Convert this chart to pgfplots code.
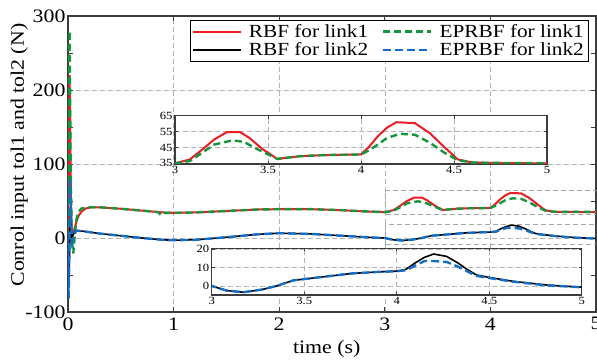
\documentclass[border=0pt]{standalone}
\usepackage{fontspec}
\setmainfont{Liberation Serif}[FakeStretch=1.15]
\usepackage{pgfplots}
\usepackage{pgfplotstable}
\pgfplotsset{compat=1.18}
\definecolor{cred}{RGB}{232,30,36}
\definecolor{cgreen}{RGB}{20,150,60}
\definecolor{cblue}{RGB}{20,110,200}
\definecolor{caxis}{RGB}{60,60,60}

\pgfplotstableread{
t v
0 0
0.005 60
0.01 150
0.015 220
0.02 160
0.027 60
0.035 10
0.045 2
0.06 12
0.08 22
0.1 30
0.13 36
0.17 40
0.22 41.5
0.3 41.5
0.5 39.5
0.7 37
0.9 34.5
1.0 34
1.2 34.5
1.5 36.5
1.8 38.5
2.0 39
2.3 39
2.6 37.5
2.8 36
3.0 35
3.08 37.5
3.15 44
3.21 50
3.28 54.7
3.35 54.7
3.4 51
3.47 44
3.55 37.8
3.67 39.5
3.8 40.2
4.0 40.6
4.04 45
4.09 52
4.14 57.5
4.19 60.9
4.29 60.3
4.37 54
4.45 45
4.52 37.5
4.6 35.5
4.75 35.2
5.0 35
}\redtab

\pgfplotstableread{
t v
0 0
0.005 120
0.01 230
0.015 280
0.02 200
0.025 100
0.035 0
0.05 -21
0.065 5
0.08 25
0.1 36
0.13 40
0.2 41.5
0.3 41.5
0.5 39.5
0.7 37
0.85 35
0.88 31
0.91 34
1.0 34
1.2 34.5
1.5 36.5
1.8 38.5
2.0 39
2.3 39
2.6 37.5
2.8 36
3.0 35
3.08 36.5
3.15 42
3.21 46.8
3.31 49.5
3.37 48.5
3.45 43.5
3.55 37.8
3.67 39.5
3.8 40.2
4.0 40.6
4.04 43
4.09 46.8
4.14 51
4.21 53.6
4.29 53
4.37 48
4.45 41.6
4.52 37
4.6 35.5
4.8 35.2
5.0 35.2
}\greentab

\pgfplotstableread{
t v
0 0
0.008 -58
0.015 -20
0.02 30
0.03 0
0.05 5
0.08 10
0.15 9
0.3 6
0.5 3
0.7 0
0.9 -2.5
1.0 -3
1.2 -2.5
1.5 1
1.8 5
2.0 6.5
2.3 5.5
2.6 3
2.9 0.5
3.0 0
3.08 -2.5
3.17 -3.4
3.27 -2
3.35 0
3.44 3
3.55 4.3
3.65 5.5
3.76 6.8
3.9 7.6
4.0 8
4.05 9
4.1 12.5
4.15 15.5
4.2 17.3
4.27 16
4.33 12.5
4.38 9
4.43 6
4.5 4.6
4.63 2.5
4.81 0.5
5.0 -0.7
}\blacktab

\pgfplotstableread{
t v
0 0
0.006 -82
0.012 -30
0.02 80
0.03 20
0.04 -5
0.06 5
0.08 10
0.15 9
0.3 6
0.5 3
0.7 0
0.9 -2.5
1.0 -3
1.2 -2.5
1.5 1
1.8 5
2.0 6.5
2.3 5.5
2.6 3
2.9 0.5
3.0 0
3.08 -2.5
3.17 -3.4
3.27 -2
3.35 0
3.44 3
3.55 4.3
3.65 5.5
3.76 6.8
3.9 7.6
4.0 8
4.05 8.5
4.1 11
4.15 13.5
4.2 13.5
4.27 13
4.33 10.5
4.38 8
4.43 5.5
4.5 4.3
4.63 2.3
4.81 0.3
5.0 -0.7
}\bluetab

\pgfplotsset{
  myline/.style={cred, line width=2pt},
  gline/.style={cgreen, line width=2.4pt, dash pattern=on 7pt off 4pt},
  kline/.style={black, line width=1.6pt},
  bline/.style={cblue, line width=2.4pt, dash pattern=on 8pt off 4pt},
}

\begin{document}
\begin{tikzpicture}[x=1pt,y=1pt]
\path[use as bounding box] (0,0) rectangle (597,363);
\begin{axis}[
  at={(68pt,51pt)}, anchor=south west,
  scale only axis, width=528pt, height=296pt,
  xmin=0, xmax=5, ymin=-100, ymax=300,
  xtick={0,1,2,3,4,5}, xticklabels={0,1,2,3,4,5},
  ytick={-100,0,100,200,300}, yticklabels={-100,0,100,200,300},
  minor y tick num=1,
  tick align=inside, major tick length=5pt, minor tick length=5pt,
  ticklabel style={font=\fontsize{19}{19}\selectfont},
  xticklabel style={yshift=-2pt},
  yticklabel style={xshift=1pt},
  grid=major,
  major grid style={gray!60, line width=0.5pt, dash pattern=on 5pt off 3pt},
  axis line style={caxis, line width=1.2pt},
  tick style={caxis, line width=0.8pt},
  xlabel={time (s)},
  xlabel style={at={(axis description cs:0.49,-0.125)}, anchor=center, font=\fontsize{19}{19}\selectfont},
  ylabel={Conrol input tol1 and tol2 (N)},
  ylabel style={at={(axis description cs:-0.092,0.53)}, anchor=center, font=\fontsize{19}{19}\selectfont},
  legend columns=2,
  legend cell align=left,
  legend style={at={(rel axis cs:0.985,0.986)}, anchor=north east, draw=black,
    font=\fontsize{18.5}{22}\selectfont, inner sep=2pt, column sep=5pt,
    /tikz/every even column/.append style={column sep=12pt}},
  legend image code/.code={\draw[#1] (0pt,0pt) -- (48pt,0pt);},
]
\draw[gray!70, line width=0.6pt, dash pattern=on 5pt off 3pt] (axis cs:3,32) rectangle (axis cs:5,64);
\draw[gray!70, line width=0.6pt, dash pattern=on 5pt off 3pt] (axis cs:3,-9) rectangle (axis cs:5,18);
\addplot[myline] table[x=t,y=v] {\redtab};
\addlegendentry{RBF for link1}
\addplot[gline] table[x=t,y=v] {\greentab};
\addlegendentry{EPRBF for link1}
\addplot[kline] table[x=t,y=v] {\blacktab};
\addlegendentry{RBF for link2}
\addplot[bline] table[x=t,y=v] {\bluetab};
\addlegendentry{EPRBF for link2}
\end{axis}

\begin{axis}[
  at={(175pt,199pt)}, anchor=south west,
  scale only axis, width=372pt, height=48.3pt,
  xmin=3, xmax=5, ymin=34.6, ymax=65,
  axis background/.style={fill=white},
  xtick={3,3.5,4,4.5,5}, xticklabels={3,3.5,4,4.5,5},
  ytick={35,45,55,65}, yticklabels={35,45,55,65},
  tick align=inside, major tick length=3pt,
  ticklabel style={font=\fontsize{11}{11}\selectfont},
  xticklabel style={yshift=1pt},
  yticklabel style={xshift=1pt},
  grid=major,
  major grid style={gray!60, line width=0.5pt, dash pattern=on 5pt off 3pt},
  axis line style={caxis, line width=1.2pt},
  tick style={caxis, line width=0.6pt},
]
\addplot[myline] table[x=t,y=v] {\redtab};
\addplot[gline] table[x=t,y=v] {\greentab};
\end{axis}

\begin{axis}[
  at={(211.7pt,68pt)}, anchor=south west,
  scale only axis, width=370pt, height=46.7pt,
  xmin=3, xmax=5, ymin=-4.9, ymax=20.4,
  axis background/.style={fill=white},
  xtick={3,3.5,4,4.5,5}, xticklabels={3,3.5,4,4.5,5},
  ytick={0,10,20}, yticklabels={0,10,20},
  tick align=inside, major tick length=3pt,
  ticklabel style={font=\fontsize{11}{11}\selectfont},
  xticklabel style={yshift=1pt},
  yticklabel style={xshift=1pt},
  grid=major,
  major grid style={gray!60, line width=0.5pt, dash pattern=on 5pt off 3pt},
  axis line style={caxis, line width=1.2pt},
  tick style={caxis, line width=0.6pt},
]
\addplot[kline] table[x=t,y=v] {\blacktab};
\addplot[bline] table[x=t,y=v] {\bluetab};
\end{axis}
\end{tikzpicture}
\end{document}
